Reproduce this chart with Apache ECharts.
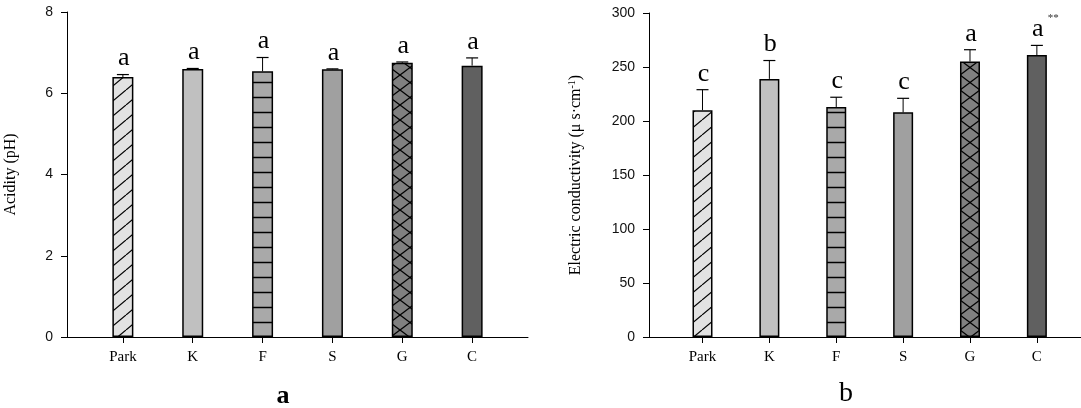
<!DOCTYPE html>
<html><head><meta charset="utf-8">
<script src="https://cdn.jsdelivr.net/npm/echarts@6/dist/echarts.min.js"></script>
<style>html,body{margin:0;padding:0;background:#fff}#c{width:1081px;height:408px}</style>
</head><body><div id="c"></div>
<script>
// ---- data ----
const categories = ['Park', 'K', 'F', 'S', 'G', 'C'];
const phMean = [6.40, 6.60, 6.54, 6.59, 6.75, 6.68];
const phErrTop = [6.46, 6.61, 6.88, 6.60, 6.77, 6.87];
const phLetters = ['a', 'a', 'a', 'a', 'a', 'a'];
const ecMean = [210, 239, 213, 208, 255, 261];
const ecErrTop = [229, 256, 222, 221, 266, 270];
const ecLetters = ['c', 'b', 'c', 'c', 'a', 'a'];
const ecMarks = ['', '', '', '', '', '**'];
const panelTitles = ['a', 'b'];

// ---- patterns ----
function makePattern(kind, bg) {
  const c = document.createElement('canvas');
  let w = 18, h = 15;
  if (kind === 'hlines') { w = 4; h = 15; }
  if (kind === 'cross') { w = 20; h = 15; }
  c.width = w; c.height = h;
  const ctx = c.getContext('2d');
  ctx.fillStyle = bg; ctx.fillRect(0, 0, w, h);
  ctx.strokeStyle = '#000';
  if (kind === 'diag') {
    ctx.lineWidth = 1.2;
    for (let k = -1; k <= 1; k++) {
      ctx.beginPath(); ctx.moveTo(k * w, h); ctx.lineTo((k + 1) * w, 0); ctx.stroke();
    }
  } else if (kind === 'hlines') {
    ctx.lineWidth = 1.5;
    ctx.beginPath(); ctx.moveTo(0, 7.5); ctx.lineTo(w, 7.5); ctx.stroke();
  } else if (kind === 'cross') {
    ctx.lineWidth = 1.3;
    for (let k = -1; k <= 1; k++) {
      ctx.beginPath(); ctx.moveTo(k * w, 0); ctx.lineTo((k + 1) * w, h); ctx.stroke();
      ctx.beginPath(); ctx.moveTo(k * w, h); ctx.lineTo((k + 1) * w, 0); ctx.stroke();
    }
  }
  return { image: c, repeat: 'repeat' };
}
const fills = [
  makePattern('diag', '#e2e2e2'),
  '#c0c0c0',
  makePattern('hlines', '#a9a9a9'),
  '#a0a0a0',
  makePattern('cross', '#808080'),
  '#606060'
];

const serif = '"Liberation Serif", "Times New Roman", serif';
const sans = '"Liberation Sans", Arial, sans-serif';

function barData(vals) {
  return vals.map((v, i) => ({ value: [i, v], itemStyle: { color: fills[i] } }));
}
function errData(mean, top) { return mean.map((m, i) => [i, m, top[i]]); }
function errRender(letters, marks) {
  return function (params, api) {
    const idx = params.dataIndex;
    const p0 = api.coord([api.value(0), api.value(1)]);
    const p1 = api.coord([api.value(0), api.value(2)]);
    const ch = [
      { type: 'line', shape: { x1: p0[0], y1: p0[1], x2: p1[0], y2: p1[1] }, style: { stroke: '#000', lineWidth: 1 } },
      { type: 'line', shape: { x1: p1[0] - 6, y1: p1[1], x2: p1[0] + 6, y2: p1[1] }, style: { stroke: '#000', lineWidth: 1.2 } },
      { type: 'text', x: p1[0] + 1, y: p1[1] - 3, style: { text: letters[idx], fill: '#000', font: '26px ' + serif, align: 'center', verticalAlign: 'bottom' } }
    ];
    if (marks && marks[idx]) {
      ch.push({ type: 'text', x: p1[0] + 11, y: p1[1] - 33, style: { text: marks[idx], fill: '#333', font: '11px ' + serif, align: 'left', verticalAlign: 'top' } });
    }
    return { type: 'group', children: ch };
  };
}

function xAxisCfg(gi, max) {
  return {
    type: 'value', gridIndex: gi, min: -0.8, max: max,
    splitLine: { show: false },
    axisLine: { onZero: false, lineStyle: { color: '#000', width: 1 } },
    axisTick: { show: true, customValues: [0, 1, 2, 3, 4, 5], length: 6, lineStyle: { color: '#000' } },
    axisLabel: {
      customValues: [0, 1, 2, 3, 4, 5], margin: 13,
      formatter: v => categories[Math.round(v)],
      fontFamily: serif, fontSize: 15, color: '#000'
    }
  };
}
function yAxisCfg(gi, max, interval, name, gap) {
  return {
    type: 'value', gridIndex: gi, min: 0, max: max, interval: interval,
    name: name, nameLocation: 'middle', nameGap: gap, nameRotate: 90,
    nameTextStyle: { fontFamily: serif, fontSize: 16, color: '#000',
      rich: { sup: { fontFamily: serif, fontSize: 10, color: '#000', verticalAlign: 'top', padding: [0, 0, 8, 0] } } },
    splitLine: { show: false },
    axisLine: { show: true, onZero: false, lineStyle: { color: '#000', width: 1 } },
    axisTick: { show: true, length: 6, lineStyle: { color: '#000' } },
    axisLabel: { margin: 14, fontFamily: sans, fontSize: 14, color: '#111' }
  };
}

const chart = echarts.init(document.getElementById('c'), null, { renderer: 'canvas' });
chart.setOption({
  animation: false,
  backgroundColor: '#fff',
  grid: [
    { left: 67, top: 12, width: 461, bottom: 71 },
    { left: 649, top: 13, right: 0, bottom: 71 }
  ],
  xAxis: [xAxisCfg(0, 5.8), xAxisCfg(1, 5.66)],
  yAxis: [
    yAxisCfg(0, 8, 2, 'Acidity (pH)', 48),
    yAxisCfg(1, 300, 50, 'Electric conductivity (\u03bc s\u00b7cm{sup|-1})', 64)
  ],
  series: [
    { type: 'bar', xAxisIndex: 0, yAxisIndex: 0, barWidth: 21, data: barData(phMean),
      itemStyle: { borderColor: '#000', borderWidth: 1.5 } },
    { type: 'custom', xAxisIndex: 0, yAxisIndex: 0, data: errData(phMean, phErrTop),
      renderItem: errRender(phLetters, null), z: 5 },
    { type: 'bar', xAxisIndex: 1, yAxisIndex: 1, barWidth: 20, data: barData(ecMean),
      itemStyle: { borderColor: '#000', borderWidth: 1.5 } },
    { type: 'custom', xAxisIndex: 1, yAxisIndex: 1, data: errData(ecMean, ecErrTop),
      renderItem: errRender(ecLetters, ecMarks), z: 5 }
  ],
  graphic: [
    { type: 'text', x: 283, y: 396, style: { text: panelTitles[0], font: 'bold 26px ' + serif, fill: '#000', align: 'center', verticalAlign: 'middle' } },
    { type: 'text', x: 846, y: 394, style: { text: panelTitles[1], font: '28px ' + serif, fill: '#000', align: 'center', verticalAlign: 'middle' } }
  ]
});
</script>
</body></html>
